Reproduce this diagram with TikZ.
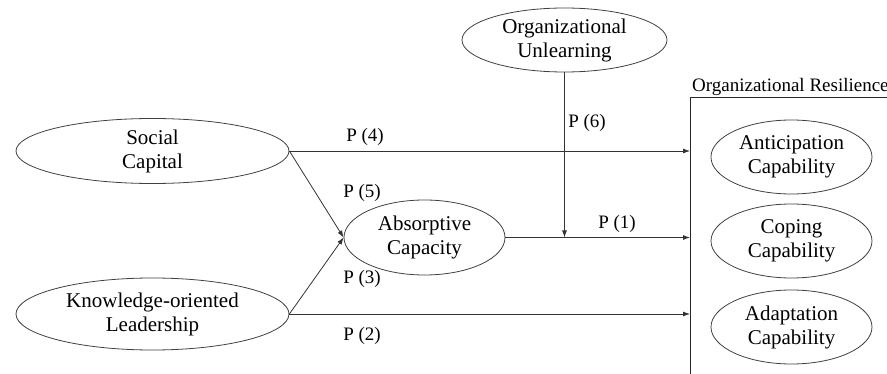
\documentclass[tikz,border=0pt]{standalone}
\usepackage{fontspec}
\setmainfont{Liberation Serif}
\usetikzlibrary{shapes.geometric,arrows.meta}
\begin{document}
\begin{tikzpicture}[x=1pt,y=-1pt,
  construct/.style={draw=black!75,line width=0.8pt,ellipse,inner sep=0pt,
    align=center,font=\fontsize{21}{24}\selectfont},
  path/.style={draw=black!80,line width=0.8pt,-{Latex[length=7pt,width=5pt]}},
  plabel/.style={font=\fontsize{19}{22}\selectfont,inner sep=0pt}]
\useasboundingbox (0,0) rectangle (887,374);

% exogenous constructs
\node[construct,minimum width=273pt,minimum height=65pt] (sc) at (152.5,151) {Social\\Capital};
\node[construct,minimum width=273pt,minimum height=72pt] (kl) at (152.5,314) {Knowledge-oriented\\Leadership};
% mediator and moderator
\node[construct,minimum width=161pt,minimum height=75pt] (ac) at (424.5,237.5) {Absorptive\\Capacity};
\node[construct,minimum width=205pt,minimum height=64pt] (ou) at (564.5,40) {Organizational\\Unlearning};

% outcome frame
\draw[draw=black!85,line width=0.8pt] (890,97) -- (690,97) -- (690,376);
\node[plabel,anchor=base west] (orl) at (692,92) {Organizational Resilience};
\node[construct,minimum width=161pt,minimum height=74pt] (ant) at (791.5,157) {Anticipation\\Capability};
\node[construct,minimum width=161pt,minimum height=74pt] (cop) at (791.5,241) {Coping\\Capability};
\node[construct,minimum width=161pt,minimum height=74pt] (ada) at (791.5,327) {Adaptation\\Capability};

% arrow end points on the frame
\coordinate (t4) at (690,151);
\coordinate (t1) at (690,237.5);
\coordinate (t2) at (690,314);
\coordinate (mod) at (564.5,237.5);

% hypothesised paths
\draw[path] (sc.east) -- (t4);
\draw[path] (sc.east) -- (ac.west);
\draw[path] (kl.east) -- (ac.west);
\draw[path] (kl.east) -- (t2);
\draw[path] (ac.east) -- (t1);
\draw[path] (ou.south) -- (mod);

% path labels
\node[plabel] (p4) at (365,137) {P (4)};
\node[plabel] (p5) at (362,193) {P (5)};
\node[plabel] (p3) at (362,279) {P (3)};
\node[plabel] (p2) at (362,336) {P (2)};
\node[plabel] (p1) at (617,224) {P (1)};
\node[plabel] (p6) at (587,123) {P (6)};
\end{tikzpicture}
\end{document}
